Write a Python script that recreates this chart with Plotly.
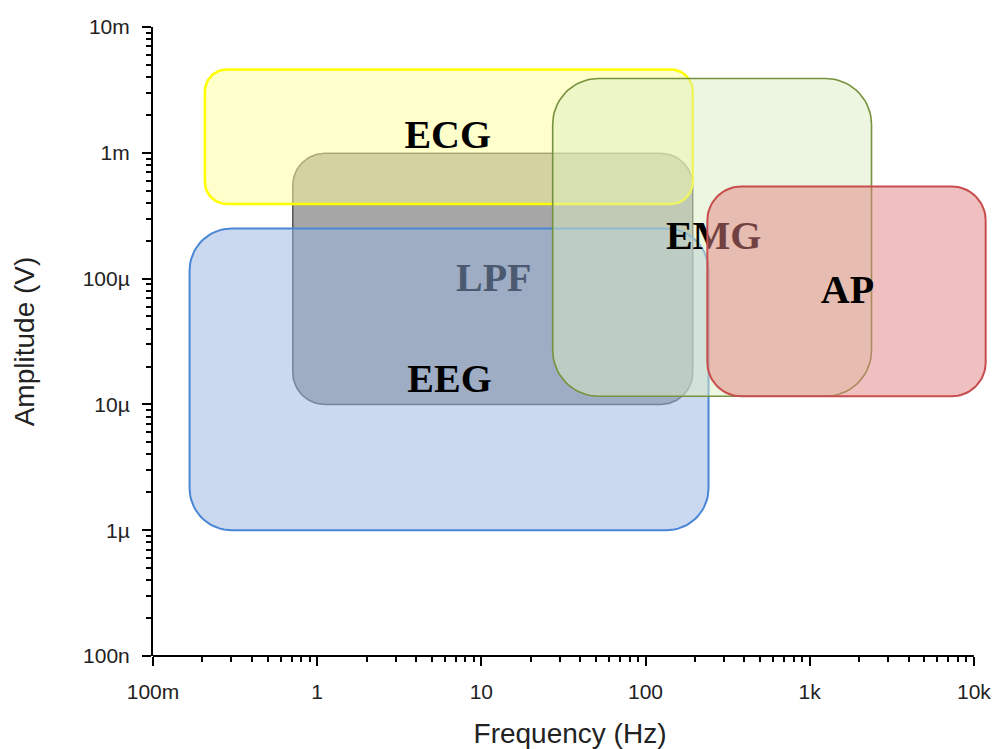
import numpy as np
import plotly.graph_objects as go

# ---------------- data ----------------
regions = ["LPF", "ECG", "EEG", "EMG", "AP"]
freq_low = [0.71, 0.207, 0.167, 27.2, 238.0]          # Hz
freq_high = [194.0, 194.0, 242.0, 2380.0, 11800.0]    # Hz
amp_low = [1.0e-5, 3.92e-4, 1.0e-6, 1.16e-5, 1.16e-5]  # V
amp_high = [9.9e-4, 4.6e-3, 2.5e-4, 3.9e-3, 5.4e-4]    # V
label_freq = [11.9, 6.24, 6.4, 260.0, 1700.0]
label_amp = [9.5e-5, 1.32e-3, 1.52e-5, 2.05e-4, 7.7e-5]

x_tick_vals = [0.1, 1, 10, 100, 1000, 10000]
x_tick_text = ["100m", "1", "10", "100", "1k", "10k"]
y_tick_vals = [1e-7, 1e-6, 1e-5, 1e-4, 1e-3, 1e-2]
y_tick_text = ["100n", "1µ", "10µ", "100µ", "1m", "10m"]

# ---------------- styles ----------------
fills = {
    "LPF": "rgba(77,77,77,0.5)",
    "ECG": "rgba(255,255,153,0.5)",
    "EEG": "rgba(150,180,225,0.5)",
    "EMG": "rgba(220,237,193,0.5)",
    "AP": "rgba(225,129,129,0.5)",
}
edges = {
    "LPF": ("rgba(45,45,45,0.75)", 1.5),
    "ECG": ("#ffff00", 2.5),
    "EEG": ("rgb(74,134,214)", 2),
    "EMG": ("rgb(118,146,60)", 1.6),
    "AP": ("rgb(200,78,78)", 2),
}
corner_px = {"LPF": 32, "ECG": 22, "EEG": 42, "EMG": 46, "AP": 34}

W, H = 994, 749
ML, MR, MT, MB = 153, 7, 27, 93
x_range = [-1, 4.08]
y_range = [-7, -2]
x_ppd = (W - ML - MR) / (x_range[1] - x_range[0])
y_ppd = (H - MT - MB) / (y_range[1] - y_range[0])


def rounded_rect(f0, f1, a0, a1, r_px, n=18):
    lx0, lx1, ly0, ly1 = np.log10(f0), np.log10(f1), np.log10(a0), np.log10(a1)
    rx, ry = r_px / x_ppd, r_px / y_ppd
    centers = [(lx1 - rx, ly1 - ry, 0), (lx0 + rx, ly1 - ry, 90),
               (lx0 + rx, ly0 + ry, 180), (lx1 - rx, ly0 + ry, 270)]
    xs, ys = [], []
    for cx, cy, start in centers:
        t = np.radians(np.linspace(start, start + 90, n))
        xs.extend(cx + rx * np.cos(t))
        ys.extend(cy + ry * np.sin(t))
    xs.append(xs[0])
    ys.append(ys[0])
    return 10 ** np.array(xs), 10 ** np.array(ys)


fig = go.Figure()
for i, name in enumerate(regions):
    xs, ys = rounded_rect(freq_low[i], freq_high[i], amp_low[i], amp_high[i], corner_px[name])
    lc, lw = edges[name]
    fig.add_trace(go.Scatter(
        x=xs, y=ys, mode="lines", fill="toself", fillcolor=fills[name],
        line=dict(color=lc, width=lw), hoverinfo="skip", showlegend=False))
    fig.add_trace(go.Scatter(
        x=[label_freq[i]], y=[label_amp[i]], mode="text", text=[name],
        textposition="middle center",
        textfont=dict(family="Liberation Serif, Times New Roman, serif", size=40,
                      color="black", weight="bold"),
        hoverinfo="skip", showlegend=False))

minor_x = [m * d for d in x_tick_vals[:-1] for m in range(2, 10)]
minor_y = [m * d for d in y_tick_vals[:-1] for m in range(2, 10)]

tick_font = dict(family="Liberation Sans, Arial, sans-serif", size=21, color="#222")
title_font = dict(family="Liberation Sans, Arial, sans-serif", size=28, color="#222")

fig.update_layout(
    template="none",
    width=W, height=H,
    margin=dict(l=ML, r=MR, t=MT, b=MB, pad=0),
    paper_bgcolor="white", plot_bgcolor="white",
    showlegend=False,
    xaxis=dict(
        type="log", range=x_range, showgrid=False, zeroline=False, showline=False,
        tickmode="array", tickvals=x_tick_vals, ticktext=x_tick_text,
        ticks="outside", ticklen=9, tickwidth=1.6, tickcolor="black",
        tickfont=tick_font, ticklabelstandoff=8,
        minor=dict(tickmode="array", tickvals=minor_x, ticks="outside",
                   ticklen=5, tickwidth=1.6, tickcolor="black", showgrid=False),
        title=dict(text="Frequency (Hz)", font=title_font, standoff=23),
        automargin=False,
    ),
    yaxis=dict(
        type="log", range=y_range, showgrid=False, zeroline=False,
        showline=True, linecolor="black", linewidth=2,
        tickmode="array", tickvals=y_tick_vals, ticktext=y_tick_text,
        ticks="outside", ticklen=9, tickwidth=1.6, tickcolor="black",
        tickfont=tick_font, ticklabelstandoff=8,
        minor=dict(tickmode="array", tickvals=minor_y, ticks="outside",
                   ticklen=5, tickwidth=1.6, tickcolor="black", showgrid=False),
        title=dict(text="Amplitude (V)", font=title_font, standoff=40),
        automargin=False,
    ),
)

# x-axis line ends at the 10k tick (the AP box extends beyond it)
x_end_paper = (np.log10(x_tick_vals[-1]) - x_range[0]) / (x_range[1] - x_range[0])
fig.add_shape(type="line", xref="paper", yref="paper", x0=0, x1=x_end_paper,
              y0=0, y1=0, line=dict(color="black", width=2), layer="above")

fig.write_html("out.html")
